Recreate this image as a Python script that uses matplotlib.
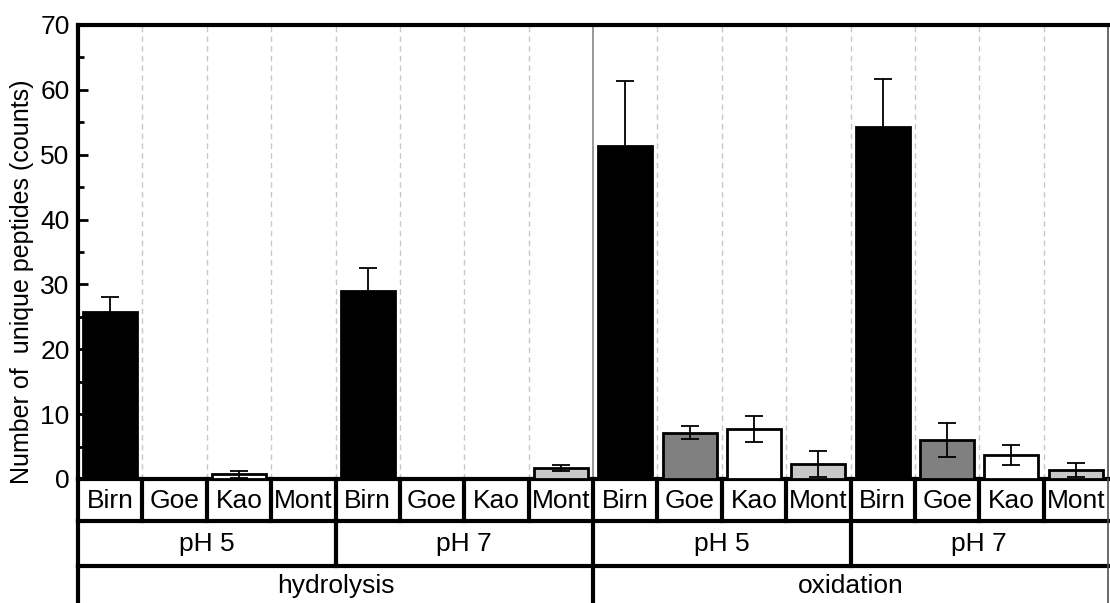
import matplotlib
matplotlib.use("Agg")
import matplotlib.pyplot as plt
import numpy as np
from matplotlib.ticker import MultipleLocator

plt.rcParams['font.family'] = ['Liberation Sans', 'DejaVu Sans']

# data
minerals = ['Birn', 'Goe', 'Kao', 'Mont']
ph_labels = ['pH 5', 'pH 7', 'pH 5', 'pH 7']
treatments = ['hydrolysis', 'oxidation']
mineral_colors = ['#000000', '#808080', '#ffffff', '#c8c8c8']

hyd_ph5 = [25.7, 0, 0.7, 0]
hyd_ph5_err = [2.3, 0, 0.5, 0]
hyd_ph7 = [29.0, 0, 0, 1.7]
hyd_ph7_err = [3.5, 0, 0, 0.45]
ox_ph5 = [51.3, 7.1, 7.7, 2.3]
ox_ph5_err = [10.1, 1.0, 2.0, 2.0]
ox_ph7 = [54.3, 6.0, 3.7, 1.4]
ox_ph7_err = [7.3, 2.6, 1.5, 1.1]

values = np.array(hyd_ph5 + hyd_ph7 + ox_ph5 + ox_ph7)
errors = np.array(hyd_ph5_err + hyd_ph7_err + ox_ph5_err + ox_ph7_err)
colors = mineral_colors * 4
labels = minerals * 4
x = np.arange(len(values))
n = len(values)

W, H = 1110, 603
fig = plt.figure(figsize=(W / 100, H / 100), dpi=100)

left, right, top, base = 78, 1108, 25, 479
ax = fig.add_axes([left / W, (H - base) / H, (right - left) / W, (base - top) / H])

ax.bar(x, values, width=0.84, color=colors, edgecolor='black', linewidth=2, zorder=3)
m = errors > 0
ax.errorbar(x[m], values[m], yerr=errors[m], fmt='none', ecolor='black',
            elinewidth=1.3, capsize=6.5, capthick=1.3, zorder=4)

ax.set_xlim(-0.5, n - 0.5)
ax.set_ylim(0, 70)
ax.yaxis.set_major_locator(MultipleLocator(10))
ax.yaxis.set_minor_locator(MultipleLocator(5))
ax.tick_params(axis='y', which='both', direction='in', width=2, labelsize=19, pad=6)
ax.tick_params(axis='y', which='major', length=7)
ax.tick_params(axis='y', which='minor', length=4)
ax.set_xticks([])
ax.set_ylabel('Number of  unique peptides (counts)', fontsize=18)
ax.yaxis.set_label_coords(-0.043, 0.434)

for xb in np.arange(0.5, n - 1, 1.0):
    if xb == 7.5:
        ax.axvline(xb, color='#909090', lw=1.3, zorder=1)
    else:
        ax.axvline(xb, color='#c8c8c8', lw=1, ls=(0, (4, 3)), zorder=1)

for side in ['left', 'top', 'bottom']:
    ax.spines[side].set_linewidth(3)
ax.spines['right'].set_linewidth(1.2)
ax.spines['right'].set_color('#505050')

# category table below the plot (y in pixels below the x axis)
tab_h = H - base
tab = fig.add_axes([left / W, 0, (right - left) / W, tab_h / H])
tab.set_xlim(-0.5, n - 0.5)
tab.set_ylim(tab_h, 0)
tab.axis('off')

r1, r2 = 42, 87
for i, lab in enumerate(labels):
    tab.text(i, 21.5, lab, ha='center', va='center', fontsize=19)
for j, lab in enumerate(ph_labels):
    tab.text(4 * j + 1.5, 65, lab, ha='center', va='center', fontsize=19)
for j, lab in enumerate(treatments):
    tab.text(8 * j + 3.5, 107, lab, ha='center', va='center', fontsize=19)

for y in [r1, r2]:
    tab.plot([-0.5, n - 0.5], [y, y], color='black', lw=3, clip_on=False)
for xb in np.arange(-0.5, n - 1, 1.0):
    tab.plot([xb, xb], [0, r1], color='black', lw=3, clip_on=False)
for xb in np.arange(-0.5, n - 1, 4.0):
    tab.plot([xb, xb], [r1, r2], color='black', lw=3, clip_on=False)
for xb in [-0.5, 7.5]:
    tab.plot([xb, xb], [r2, tab_h + 5], color='black', lw=3, clip_on=False)
tab.plot([n - 0.5, n - 0.5], [0, tab_h + 5], color='#505050', lw=1.2, clip_on=False)

fig.savefig('out.png', dpi=100)
